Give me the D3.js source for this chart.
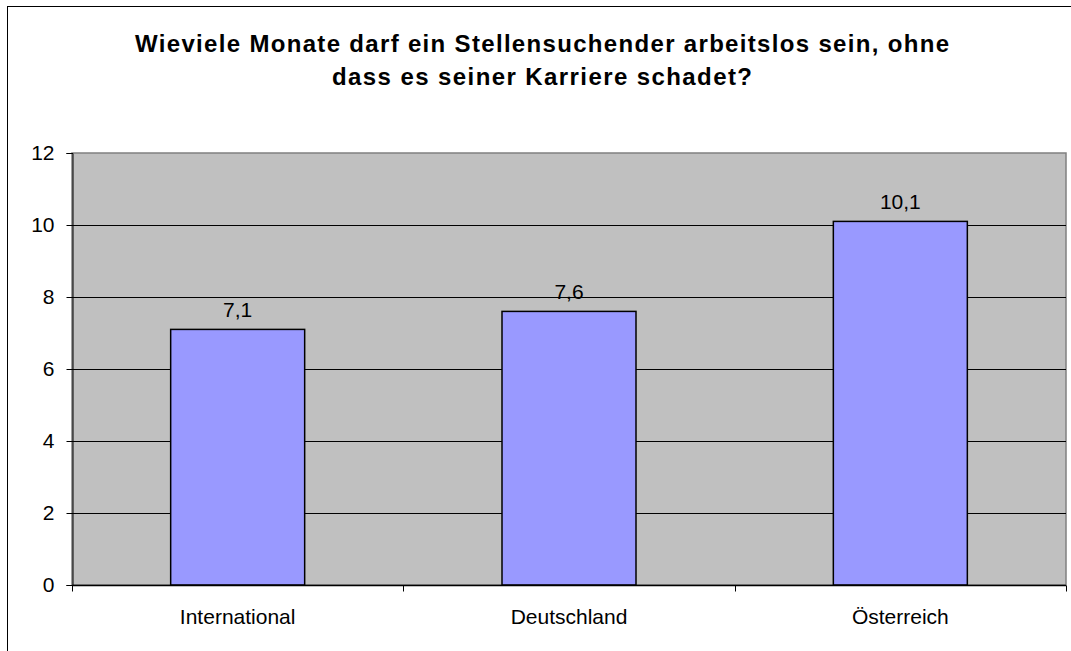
<!DOCTYPE html>
<html><head><meta charset="utf-8">
<script src="https://cdn.jsdelivr.net/npm/d3@7"></script>
<style>body{margin:0;background:#fff}svg{display:block}text{font-family:Arial,"Liberation Sans",sans-serif}</style>
</head><body>
<svg id="c" width="1071" height="651"></svg>
<script>
const categories = ["International", "Deutschland", "Österreich"];
const values = [7.1, 7.6, 10.1];
const valueLabels = ["7,1", "7,6", "10,1"];
const yTicks = [0, 2, 4, 6, 8, 10, 12];
const titleLines = ["Wieviele Monate darf ein Stellensuchender arbeitslos sein, ohne", "dass es seiner Karriere schadet?"];

const svg = d3.select("#c");
const L = 72, R = 1066, T = 153, B = 585;
const x = d3.scaleBand().domain(categories).range([L, R]).paddingInner(0.595).paddingOuter(0.2975);
const y = d3.scaleLinear().domain([0, 12]).range([B, T]);
const FS = 21;

// outer border (extends beyond image at right/bottom)
svg.append("rect").attr("x", 7.5).attr("y", 6.5).attr("width", 1090).attr("height", 680)
  .attr("fill", "#fff").attr("stroke", "#000").attr("stroke-width", 1);

// plot area
svg.append("rect").attr("x", L).attr("y", T).attr("width", R - L).attr("height", B - T)
  .attr("fill", "#C0C0C0").attr("stroke", "#808080").attr("stroke-width", 1.5);

// gridlines
svg.append("g").selectAll("line").data(yTicks.filter(d => d > 0 && d < 12)).join("line")
  .attr("x1", L).attr("x2", R).attr("y1", d => Math.round(y(d)) + 0.5).attr("y2", d => Math.round(y(d)) + 0.5)
  .attr("stroke", "#000").attr("stroke-width", 1);

// bars
const bw = 134;
svg.append("g").selectAll("rect").data(values).join("rect")
  .attr("x", (d, i) => x(categories[i]) + x.bandwidth() / 2 - bw / 2)
  .attr("width", bw)
  .attr("y", d => y(d))
  .attr("height", d => B - y(d))
  .attr("fill", "#9999FF").attr("stroke", "#000").attr("stroke-width", 1.5);

// value labels
svg.append("g").selectAll("text").data(values).join("text")
  .attr("x", (d, i) => x(categories[i]) + x.bandwidth() / 2)
  .attr("y", d => y(d) - 12)
  .attr("text-anchor", "middle").attr("font-size", FS).attr("fill", "#000")
  .text((d, i) => valueLabels[i]);

// y axis
const yAxis = d3.axisLeft(y).tickValues(yTicks).tickSize(6).tickPadding(12).tickFormat(d3.format("d"));
const gy = svg.append("g").attr("transform", `translate(${L + 0.5},0)`).call(yAxis);
gy.select(".domain").attr("stroke", "#000");
gy.selectAll(".tick line").attr("stroke", "#000");
gy.selectAll("text").attr("font-size", FS).attr("font-family", "Arial, 'Liberation Sans', sans-serif").attr("fill", "#000");

// x axis
const gx = svg.append("g").attr("transform", `translate(0,${B + 0.5})`);
gx.append("line").attr("x1", L).attr("x2", R).attr("stroke", "#000").attr("stroke-width", 1.5);
const bounds = [L, ...categories.map(c => x(c) + x.bandwidth() + x.step() * x.paddingInner() / 2).slice(0, 2), R];
gx.selectAll("line.t").data(bounds).join("line").attr("class", "t")
  .attr("x1", d => Math.round(d) + 0.5).attr("x2", d => Math.round(d) + 0.5).attr("y1", 0).attr("y2", 6).attr("stroke", "#000");
gx.selectAll("text").data(categories).join("text")
  .attr("x", d => x(d) + x.bandwidth() / 2).attr("y", 38)
  .attr("text-anchor", "middle").attr("font-size", FS).attr("fill", "#000").text(d => d);

// title
const targetW = [814, 420];
const tt = svg.append("g").selectAll("text").data(titleLines).join("text")
  .attr("x", 542).attr("y", (d, i) => 52 + i * 33)
  .attr("text-anchor", "middle").attr("font-size", 21).attr("font-weight", "bold").attr("fill", "#000")
  .text(d => d);
const w0 = tt.nodes()[0].getComputedTextLength();
const tfs = Math.min(24, 21 * targetW[0] / w0);
tt.attr("font-size", tfs).attr("textLength", (d, i) => targetW[i]).attr("lengthAdjust", "spacing");
</script>
</body></html>
